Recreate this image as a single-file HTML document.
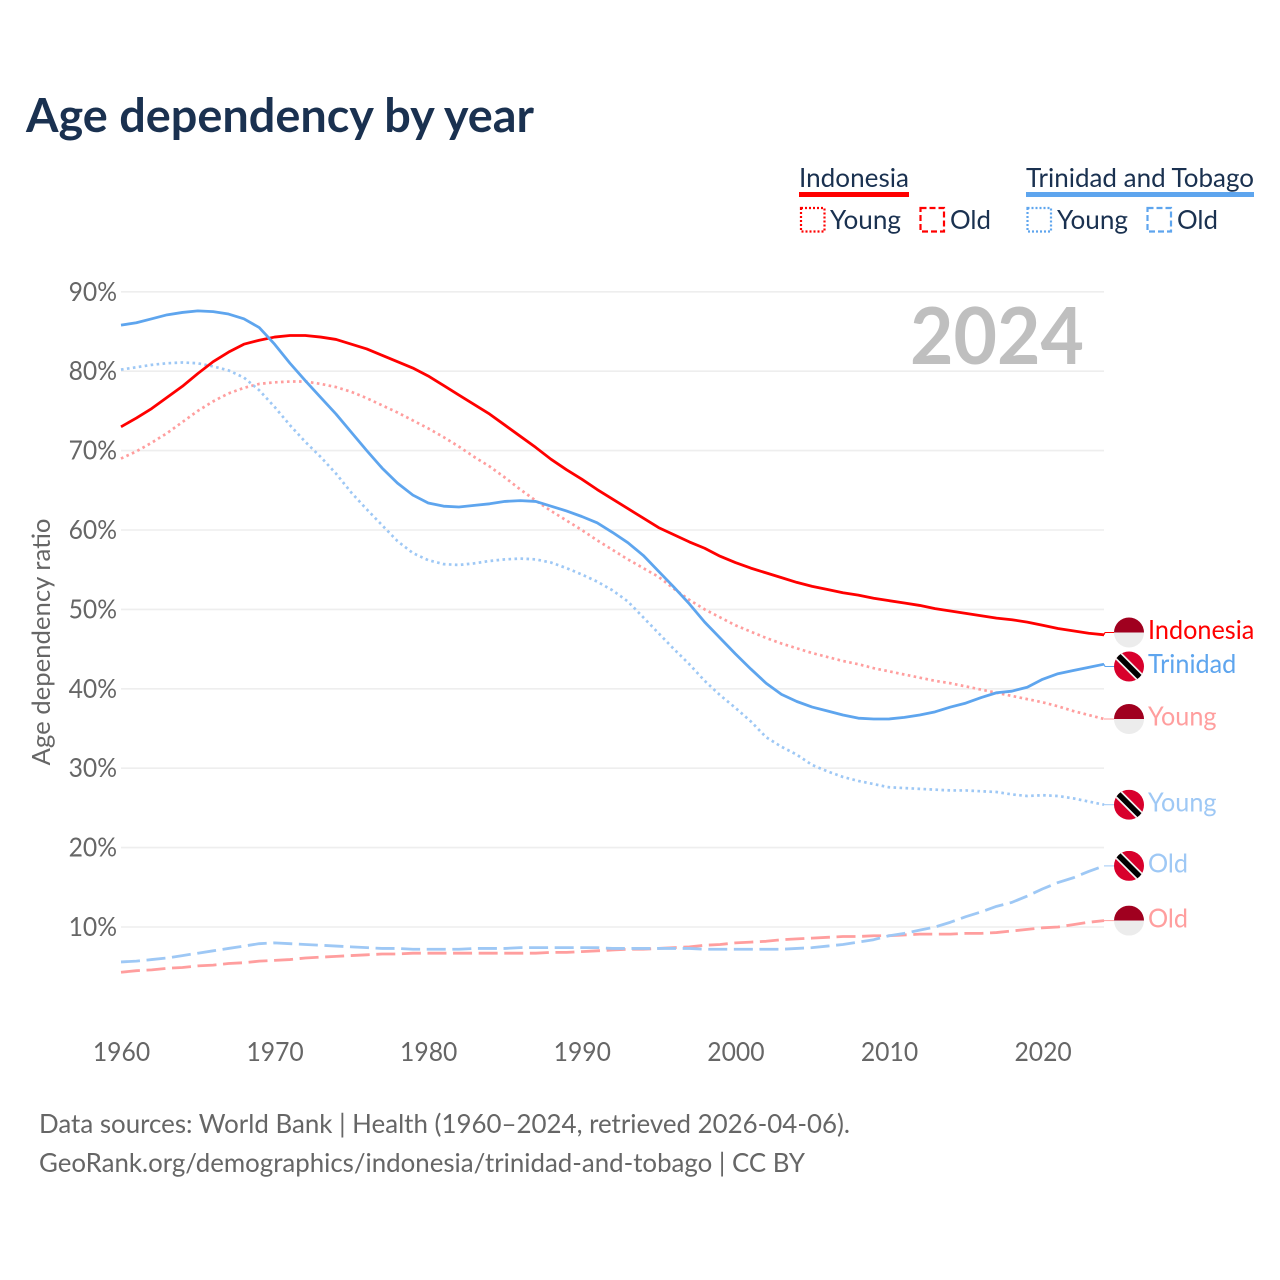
<!DOCTYPE html>
<html lang="en">
<head>
<meta charset="utf-8">
<title>Age dependency by year</title>
<style>
html,body{margin:0;padding:0;background:#fff;width:1280px;height:1280px;overflow:hidden}
svg{display:block}
text{font-family:"Lato","Carlito","Liberation Sans",sans-serif}
</style>
</head>
<body>
<svg id="chart" xmlns="http://www.w3.org/2000/svg" width="1280" height="1280" viewBox="0 0 1280 1280">
  <defs>
    <clipPath id="flag-clip"><circle cx="0" cy="0" r="15"/></clipPath>
  </defs>
  <rect width="1280" height="1280" fill="#fff"/>
  <text x="26" y="132" font-size="46.5" font-weight="700" fill="#1a3150" textLength="508" lengthAdjust="spacingAndGlyphs">Age dependency by year</text>

  <g font-size="26.5" fill="#1a3150">
    <text x="799" y="187" textLength="110" lengthAdjust="spacingAndGlyphs">Indonesia</text>
    <rect x="799" y="192" width="110" height="5" fill="#ff0000"/>
    <rect x="801" y="208" width="23.5" height="23.5" fill="none" stroke="#ff0000" stroke-width="2.2" stroke-dasharray="2 2"/>
    <text x="830" y="229" textLength="71" lengthAdjust="spacingAndGlyphs">Young</text>
    <rect x="920.5" y="208" width="23.5" height="23.5" fill="none" stroke="#ff0000" stroke-width="2.2" stroke-dasharray="6 3"/>
    <text x="950" y="229" textLength="41" lengthAdjust="spacingAndGlyphs">Old</text>
    <text x="1026" y="187" textLength="228" lengthAdjust="spacingAndGlyphs">Trinidad and Tobago</text>
    <rect x="1026" y="192" width="228" height="5" fill="#5ea5ee"/>
    <rect x="1027.5" y="208" width="23.5" height="23.5" fill="none" stroke="#5ea5ee" stroke-width="2.2" stroke-dasharray="2 2"/>
    <text x="1057" y="229" textLength="71" lengthAdjust="spacingAndGlyphs">Young</text>
    <rect x="1147.5" y="208" width="23.5" height="23.5" fill="none" stroke="#5ea5ee" stroke-width="2.2" stroke-dasharray="6 3"/>
    <text x="1177" y="229" textLength="41" lengthAdjust="spacingAndGlyphs">Old</text>
  </g>

  <g id="grid"></g>
  <g id="y-ticks"></g>
  <g id="x-ticks"></g>
  <text transform="translate(50,642) rotate(-90)" text-anchor="middle" font-size="25" fill="#666" textLength="247" lengthAdjust="spacingAndGlyphs">Age dependency ratio</text>
  <text x="910" y="364" font-size="79" font-weight="700" fill="#bfbfbf" textLength="174" lengthAdjust="spacingAndGlyphs">2024</text>
  <g id="series"></g>
  <g id="end-labels"></g>

  <g font-size="26.5" fill="#666">
    <text x="39" y="1133" textLength="811" lengthAdjust="spacingAndGlyphs">Data sources: World Bank | Health (1960–2024, retrieved 2026-04-06).</text>
    <text x="39" y="1172" textLength="766" lengthAdjust="spacingAndGlyphs">GeoRank.org/demographics/indonesia/trinidad-and-tobago | CC BY</text>
  </g>
</svg>
<script>
const firstYear = 1960;
const yTickValues = [10, 20, 30, 40, 50, 60, 70, 80, 90];
const xTickValues = [1960, 1970, 1980, 1990, 2000, 2010, 2020];

const indonesiaTotal = [
  73.0, 74.1, 75.3, 76.7, 78.1, 79.7, 81.2, 82.4, 83.4, 83.9,
  84.3, 84.5, 84.5, 84.3, 84.0, 83.4, 82.8, 82.0, 81.2, 80.4,
  79.4, 78.2, 77.0, 75.8, 74.6, 73.2, 71.8, 70.4, 68.9, 67.6,
  66.4, 65.1, 63.9, 62.7, 61.5, 60.3, 59.4, 58.5, 57.7, 56.7,
  55.9, 55.2, 54.6, 54.0, 53.4, 52.9, 52.5, 52.1, 51.8, 51.4,
  51.1, 50.8, 50.5, 50.1, 49.8, 49.5, 49.2, 48.9, 48.7, 48.4,
  48.0, 47.6, 47.3, 47.0, 46.8
];
const trinidadTotal = [
  85.8, 86.1, 86.6, 87.1, 87.4, 87.6, 87.5, 87.2, 86.6, 85.5,
  83.4, 81.0, 78.8, 76.7, 74.6, 72.3, 70.0, 67.8, 65.9, 64.4,
  63.4, 63.0, 62.9, 63.1, 63.3, 63.6, 63.7, 63.6, 63.0, 62.4,
  61.7, 60.9, 59.7, 58.4, 56.8, 54.8, 52.8, 50.7, 48.4, 46.4,
  44.4, 42.5, 40.7, 39.3, 38.4, 37.7, 37.2, 36.7, 36.3, 36.2,
  36.2, 36.4, 36.7, 37.1, 37.7, 38.2, 38.9, 39.5, 39.7, 40.2,
  41.2, 41.9, 42.3, 42.7, 43.1
];
const indonesiaYoung = [
  69.0, 69.9, 71.0, 72.2, 73.6, 75.0, 76.2, 77.2, 77.9, 78.4,
  78.6, 78.7, 78.7, 78.4, 78.0, 77.4, 76.6, 75.7, 74.8, 73.8,
  72.8, 71.7, 70.5, 69.2, 68.0, 66.6, 65.1, 63.7, 62.4, 61.2,
  60.0, 58.7, 57.5, 56.3, 55.2, 54.1, 52.6, 51.2, 50.0, 49.0,
  48.0, 47.2, 46.4, 45.7, 45.1, 44.5, 44.0, 43.5, 43.1, 42.6,
  42.2, 41.8, 41.4, 41.0, 40.7, 40.3, 39.9, 39.5, 39.1, 38.7,
  38.3, 37.8, 37.2, 36.7, 36.2
];
const trinidadYoung = [
  80.2, 80.5, 80.8, 81.0, 81.1, 81.0, 80.6, 80.1, 79.2, 77.6,
  75.5, 73.2, 71.1, 69.2, 67.1, 64.7, 62.6, 60.6, 58.6, 57.1,
  56.2, 55.7, 55.6, 55.8, 56.1, 56.3, 56.4, 56.3, 55.9, 55.2,
  54.4, 53.5, 52.4, 51.0, 49.0, 47.0, 45.0, 43.1, 41.0, 39.2,
  37.6, 35.9, 33.9, 32.7, 31.7, 30.4, 29.6, 28.9, 28.4, 28.0,
  27.6, 27.5, 27.4, 27.3, 27.2, 27.2, 27.1, 27.0, 26.7, 26.5,
  26.6, 26.5, 26.2, 25.8, 25.4
];
const indonesiaOld = [
  4.3, 4.5, 4.6, 4.8, 4.9, 5.1, 5.2, 5.4, 5.5, 5.7,
  5.8, 5.9, 6.1, 6.2, 6.3, 6.4, 6.5, 6.6, 6.6, 6.7,
  6.7, 6.7, 6.7, 6.7, 6.7, 6.7, 6.7, 6.7, 6.8, 6.8,
  6.9, 7.0, 7.1, 7.2, 7.2, 7.3, 7.4, 7.5, 7.7, 7.8,
  8.0, 8.1, 8.2, 8.4, 8.5, 8.6, 8.7, 8.8, 8.8, 8.9,
  8.9, 9.0, 9.1, 9.1, 9.1, 9.2, 9.2, 9.3, 9.5, 9.7,
  9.9, 10.0, 10.3, 10.6, 10.8
];
const trinidadOld = [
  5.6, 5.7, 5.9, 6.1, 6.4, 6.7, 7.0, 7.3, 7.6, 7.9,
  8.0, 7.9, 7.8, 7.7, 7.6, 7.5, 7.4, 7.3, 7.3, 7.2,
  7.2, 7.2, 7.2, 7.3, 7.3, 7.3, 7.4, 7.4, 7.4, 7.4,
  7.4, 7.4, 7.3, 7.3, 7.3, 7.3, 7.3, 7.3, 7.2, 7.2,
  7.2, 7.2, 7.2, 7.2, 7.3, 7.4, 7.6, 7.8, 8.1, 8.4,
  8.9, 9.2, 9.6, 10.0, 10.6, 11.3, 11.9, 12.6, 13.1, 13.9,
  14.8, 15.6, 16.2, 17.0, 17.7
];

const NS = 'http://www.w3.org/2000/svg';
function xScale(year) { return 121 + (year - 1960) * 15.36; }
function yScale(value) { return 927 - (value - 10) * 7.94; }
function make(tag, attrs, parent) {
  const el = document.createElementNS(NS, tag);
  for (const k in attrs) el.setAttribute(k, attrs[k]);
  parent.appendChild(el);
  return el;
}
function condense(textEl, factor) {
  textEl.setAttribute('textLength', (textEl.getComputedTextLength() * factor).toFixed(1));
  textEl.setAttribute('lengthAdjust', 'spacingAndGlyphs');
}

const gridGroup = document.getElementById('grid');
const yTickGroup = document.getElementById('y-ticks');
const xTickGroup = document.getElementById('x-ticks');
yTickValues.forEach(function (v) {
  const line = make('line', { x1: 121, x2: 1104, y1: yScale(v), y2: yScale(v), stroke: '#eeeeee', 'stroke-width': 1.6 }, gridGroup);
  
  
  const t = make('text', { x: 117, y: yScale(v) + 9, 'text-anchor': 'end', 'font-size': 26, fill: '#666' }, yTickGroup);
  
  
  t.textContent = v + '%';
  condense(t, 0.95);
});
xTickValues.forEach(function (v) {
  const t = make('text', { x: xScale(v) + 0.5, y: 1061, 'text-anchor': 'middle', 'font-size': 26, fill: '#666' }, xTickGroup);
  
  
  t.textContent = v;
  condense(t, 0.95);
});

const RED = '#ff0000', BLUE = '#5ea5ee', PINK = '#ff9e9e', SKY = '#9ec8f5';
const DOTTED = '2.6 3.4', DASHED = '19 6.6';
const seriesList = [
  { key: 'indonesia-old', values: indonesiaOld, color: PINK, dash: DASHED, width: 2.8, label: 'Old', flag: 'id' },
  { key: 'trinidad-old', values: trinidadOld, color: SKY, dash: DASHED, width: 2.8, label: 'Old', flag: 'tt' },
  { key: 'indonesia-young', values: indonesiaYoung, color: PINK, dash: DOTTED, width: 2.7, label: 'Young', flag: 'id' },
  { key: 'trinidad-young', values: trinidadYoung, color: SKY, dash: DOTTED, width: 2.7, label: 'Young', flag: 'tt' },
  { key: 'indonesia-total', values: indonesiaTotal, color: RED, dash: '', width: 2.8, label: 'Indonesia', flag: 'id' },
  { key: 'trinidad-total', values: trinidadTotal, color: BLUE, dash: '', width: 2.8, label: 'Trinidad', flag: 'tt' }
];

const seriesGroup = document.getElementById('series');
seriesList.forEach(function (s) {
  const d = s.values.map(function (v, i) {
    return (i ? 'L' : 'M') + xScale(firstYear + i).toFixed(2) + ' ' + yScale(v).toFixed(2);
  }).join('');
  const attrs = { d: d, fill: 'none', stroke: s.color, 'stroke-width': s.width, 'stroke-linejoin': 'round' };
  if (s.dash) attrs['stroke-dasharray'] = s.dash;
  const path = make('path', attrs, seriesGroup);
  
  
});

// end-label placement: start at the last value, push apart anything closer than the minimum gap
const MIN_GAP = 34;
const placed = seriesList.map(function (s) {
  return { s: s, anchor: yScale(s.values[s.values.length - 1]), y: yScale(s.values[s.values.length - 1]) };
}).sort(function (a, b) { return a.y - b.y; });
for (let i = 1; i < placed.length; i++) {
  const gap = placed[i].y - placed[i - 1].y;
  if (gap < MIN_GAP) {
    const shift = (MIN_GAP - gap) / 2;
    placed[i - 1].y -= shift;
    placed[i].y += shift;
  }
}

const labelGroup = document.getElementById('end-labels');
function drawFlag(kind, parent) {
  if (kind === 'id') {
    make('rect', { x: -15, y: -15, width: 30, height: 15, fill: '#a0001f' }, parent);
    make('rect', { x: -15, y: 0, width: 30, height: 15, fill: '#ececec' }, parent);
  } else {
    make('rect', { x: -15, y: -15, width: 30, height: 30, fill: '#d8002c' }, parent);
    make('line', { x1: -13, y1: -13, x2: 13, y2: 13, stroke: '#f2f2f2', 'stroke-width': 9 }, parent);
    make('line', { x1: -13, y1: -13, x2: 13, y2: 13, stroke: '#000', 'stroke-width': 5.6 }, parent);
  }
}
placed.forEach(function (p) {
  const s = p.s;
  const conn = make('path', { d: 'M1104 ' + p.anchor.toFixed(1) + 'L1105 ' + p.y.toFixed(1) + 'L1114 ' + p.y.toFixed(1), fill: 'none', stroke: s.color, 'stroke-width': 1 }, labelGroup);
  
  
  const flag = make('g', { transform: 'translate(1129,' + p.y.toFixed(1) + ')', 'clip-path': 'url(#flag-clip)' }, labelGroup);
  
  
  drawFlag(s.flag, flag);
  const t = make('text', { x: 1148, y: p.y + 6.7, 'font-size': 26, fill: s.color }, labelGroup);
  
  
  t.textContent = s.label;
  condense(t, 0.97);
});
</script>
</body>
</html>
